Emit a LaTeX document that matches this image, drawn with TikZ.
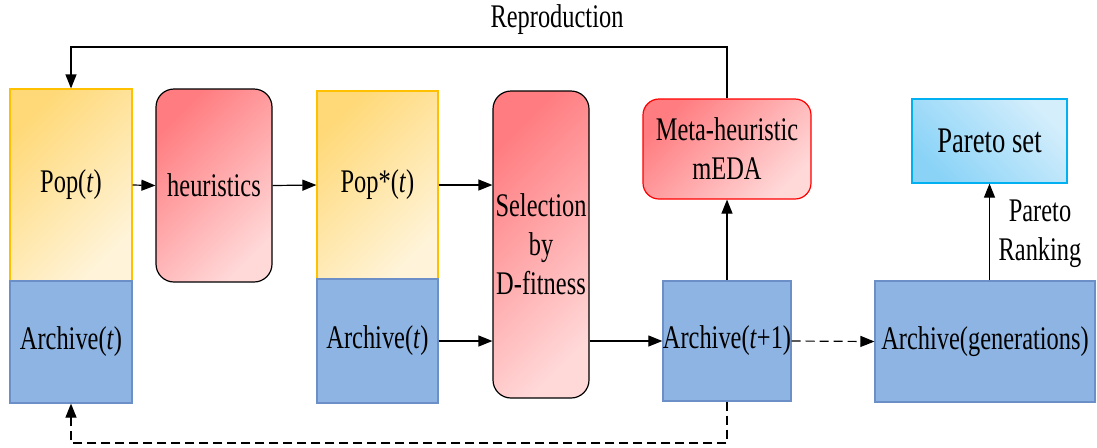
\documentclass[tikz,border=0pt]{standalone}
\usepackage{fontspec}
\setmainfont{Liberation Serif}[FakeStretch=0.74]
\usetikzlibrary{arrows.meta}
\definecolor{popA}{HTML}{FFD978}
\definecolor{popB}{HTML}{FFF4DA}
\definecolor{popLine}{HTML}{FFC000}
\definecolor{arcFill}{HTML}{8EB4E3}
\definecolor{arcLine}{HTML}{6C8FC8}
\definecolor{redA}{HTML}{FF7C80}
\definecolor{redB}{HTML}{FFD8D8}
\definecolor{bluA}{HTML}{8AD3F7}
\definecolor{bluB}{HTML}{D4EEFC}
\definecolor{bluLine}{HTML}{00B0F0}
\begin{document}
\begin{tikzpicture}[x=0.5pt,y=-0.5pt,
  font=\fontsize{16.5}{19.5}\selectfont,
  every node/.style={inner sep=0pt,align=center},
  pop/.style={draw=popLine,line width=0.6pt,top color=popA,bottom color=popB,shading angle=45},
  arc/.style={draw=arcLine,line width=0.6pt,fill=arcFill},
  op/.style={draw=black,line width=0.6pt,rounded corners=9pt,top color=redA,bottom color=redB,shading angle=45},
  meta/.style={draw=red,line width=0.6pt,rounded corners=8pt,top color=redA,bottom color=redB,shading angle=45},
  pset/.style={draw=bluLine,line width=0.6pt,top color=bluB,bottom color=bluA,shading angle=-45,
    font=\fontsize{18}{21}\selectfont},
  flow/.style={line width=0.6pt,-{Triangle[length=7pt,width=5.5pt]}},
  dflow/.style={flow,dash pattern=on 4.5pt off 2.5pt}]
\useasboundingbox (0,0) rectangle (1097,447);

% population / archive blocks
\node[pop,minimum width=61pt,minimum height=96pt] (pop) at (71,185) {Pop(\textit{t})};
\node[arc,minimum width=61pt,minimum height=61pt] (arcL) at (71,342) {Archive(\textit{t})};
\node[op,minimum width=58pt,minimum height=96.5pt] (heur) at (214,185.5) {heuristics};
\node[pop,minimum width=60.5pt,minimum height=94pt] (pops) at (377.5,185) {Pop*(\textit{t})};
\node[arc,minimum width=60.5pt,minimum height=62pt] (arcM) at (377.5,341) {Archive(\textit{t})};
\node[op,minimum width=48pt,minimum height=153.5pt] (sel) at (541,244.5) {Selection\\by\\D-fitness};
\node[arc,minimum width=61pt,minimum height=60pt] (arcN) at (727,341) {Archive(\textit{t}+1)};
\node[meta,minimum width=84pt,minimum height=50pt] (meta) at (727,149) {Meta-heuristic\\mEDA};
\node[arc,minimum width=110pt,minimum height=60.5pt] (arcG) at (985,341.5) {Archive(generations)};
\node[pset,minimum width=77.5pt,minimum height=42pt] (pset) at (989.5,141) {Pareto set};

% labels
\node (repro) at (557,20) {Reproduction};
\node (rank) at (1040,234) {Pareto\\Ranking};

% connectors
\coordinate (rtop) at (400,47);
\coordinate (rbot) at (400,443);
\draw[flow] (pop.east) -- (heur.west);
\draw[flow] (heur.east) -- (pops.west);
\draw[flow] (pops.east) -- (pops.east -| sel.west);
\draw[flow] (arcM.east) -- (arcM.east -| sel.west);
\draw[flow] (arcN.west -| sel.east) -- (arcN.west);
\draw[flow] (arcN.north) -- (meta.south);
\draw[flow] (meta.north) |- (rtop) -| (pop.north);
\draw[dflow] (arcN.east) -- (arcG.west);
\draw[dflow] (arcN.south) |- (rbot) -| (arcL.south);
\draw[flow] (arcG.north -| pset.south) -- (pset.south);
\end{tikzpicture}
\end{document}
